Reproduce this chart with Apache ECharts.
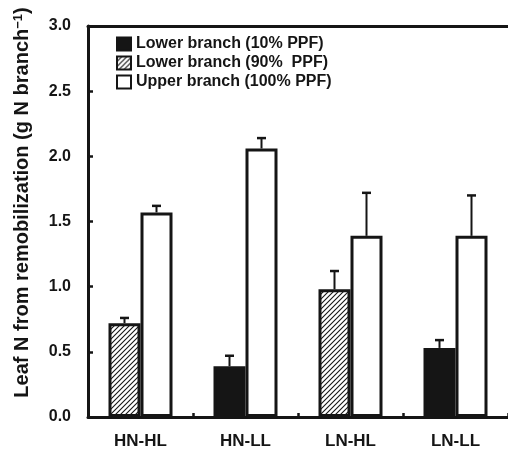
<!DOCTYPE html>
<html>
<head>
<meta charset="utf-8">
<script src="https://cdn.jsdelivr.net/npm/echarts@6/dist/echarts.min.js"></script>
<style>html,body{margin:0;padding:0;background:#fff;}#c{width:508px;height:459px;}</style>
</head>
<body>
<div id="c"></div>
<script>
var categories = ['HN-HL', 'HN-LL', 'LN-HL', 'LN-LL'];
var lower10 = [null, 0.39, null, 0.53];
var lower10Err = [null, 0.08, null, 0.06];
var lower90 = [0.72, null, 0.98, null];
var lower90Err = [0.04, null, 0.14, null];
var upper100 = [1.57, 2.06, 1.39, 1.39];
var upper100Err = [0.05, 0.08, 0.33, 0.31];

var FONT = 'Liberation Sans, Arial, sans-serif';
var INK = '#151515';
var BAR_W = 32;

// hatch pattern
var pc = document.createElement('canvas');
pc.width = 5; pc.height = 5;
var pctx = pc.getContext('2d');
pctx.fillStyle = '#fff'; pctx.fillRect(0, 0, 5, 5);
pctx.strokeStyle = INK; pctx.lineWidth = 1.1;
pctx.beginPath();
pctx.moveTo(-1, 6); pctx.lineTo(6, -1);
pctx.moveTo(-1, 1); pctx.lineTo(1, -1);
pctx.moveTo(4, 6); pctx.lineTo(6, 4);
pctx.stroke();

var errData = [];
categories.forEach(function (c, i) {
  if (lower10[i] != null) errData.push([i, lower10[i], lower10Err[i], -1]);
  if (lower90[i] != null) errData.push([i, lower90[i], lower90Err[i], -1]);
  errData.push([i, upper100[i], upper100Err[i], 1]);
});

var chart = echarts.init(document.getElementById('c'), null, {renderer: 'canvas'});
chart.setOption({
  animation: false,
  backgroundColor: '#fff',
  textStyle: {fontFamily: FONT},
  grid: {left: 88, right: -8, top: 26, bottom: 42, containLabel: false},
  legend: {
    orient: 'vertical', left: 111, top: 31, itemGap: 3,
    itemWidth: 14, itemHeight: 13, icon: 'rect',
    textStyle: {fontFamily: FONT, fontWeight: 'bold', fontSize: 16, color: INK},
    data: ['Lower branch (10% PPF)', 'Lower branch (90%  PPF)', 'Upper branch (100% PPF)']
  },
  xAxis: [{
    type: 'category', data: categories, position: 'bottom',
    axisLine: {lineStyle: {color: INK, width: 3}},
    axisTick: {show: true, inside: true, length: 4, lineStyle: {color: INK, width: 2.5}},
    axisLabel: {fontFamily: FONT, fontWeight: 'bold', fontSize: 17, color: INK, margin: 16}
  }, {
    type: 'category', data: categories, position: 'top',
    axisLine: {lineStyle: {color: INK, width: 3}},
    axisTick: {show: false}, axisLabel: {show: false}
  }],
  yAxis: {
    type: 'value', min: 0, max: 3, interval: 0.5,
    name: '{a|Leaf N from remobilization (g N branch}{s|−1}{a|)}',
    nameLocation: 'middle', nameGap: 55,
    nameTextStyle: {
      padding: [0, 0, 0, 38],
      rich: {
        a: {fontFamily: FONT, fontWeight: 'bold', fontSize: 20, color: INK},
        s: {fontFamily: FONT, fontWeight: 'bold', fontSize: 13, color: INK, verticalAlign: 'top', padding: [0, 0, 8, 0]}
      }
    },
    axisLine: {show: true, lineStyle: {color: INK, width: 3}},
    axisTick: {show: true, inside: true, length: 5, lineStyle: {color: INK, width: 2.5}},
    splitLine: {show: false},
    axisLabel: {fontFamily: FONT, fontWeight: 'bold', fontSize: 16, color: INK, margin: 17,
      formatter: function (v) { return v.toFixed(1); }}
  },
  series: [{
    name: 'Lower branch (10% PPF)', type: 'bar', stack: 'lower', data: lower10,
    barWidth: BAR_W, barGap: '0%',
    itemStyle: {color: INK, borderColor: INK, borderWidth: 3}
  }, {
    name: 'Lower branch (90%  PPF)', type: 'bar', stack: 'lower', data: lower90,
    barWidth: BAR_W, barGap: '0%',
    itemStyle: {color: {image: pc, repeat: 'repeat'}, borderColor: INK, borderWidth: 3}
  }, {
    name: 'Upper branch (100% PPF)', type: 'bar', data: upper100,
    barWidth: BAR_W, barGap: '0%',
    itemStyle: {color: '#fff', borderColor: INK, borderWidth: 3}
  }, {
    type: 'custom', data: errData, z: 5, silent: true,
    encode: {x: 0, y: 1},
    renderItem: function (params, api) {
      var i = api.value(0), v = api.value(1), e = api.value(2), side = api.value(3);
      var p0 = api.coord([i, v]);
      var p1 = api.coord([i, v + e]);
      var x = p0[0] + side * BAR_W / 2;
      return {
        type: 'group',
        children: [{
          type: 'line', shape: {x1: x, y1: p0[1], x2: x, y2: p1[1]},
          style: {stroke: INK, lineWidth: 2}
        }, {
          type: 'line', shape: {x1: x - 4.5, y1: p1[1], x2: x + 4.5, y2: p1[1]},
          style: {stroke: INK, lineWidth: 2.5}
        }]
      };
    }
  }]
});
</script>
</body>
</html>
